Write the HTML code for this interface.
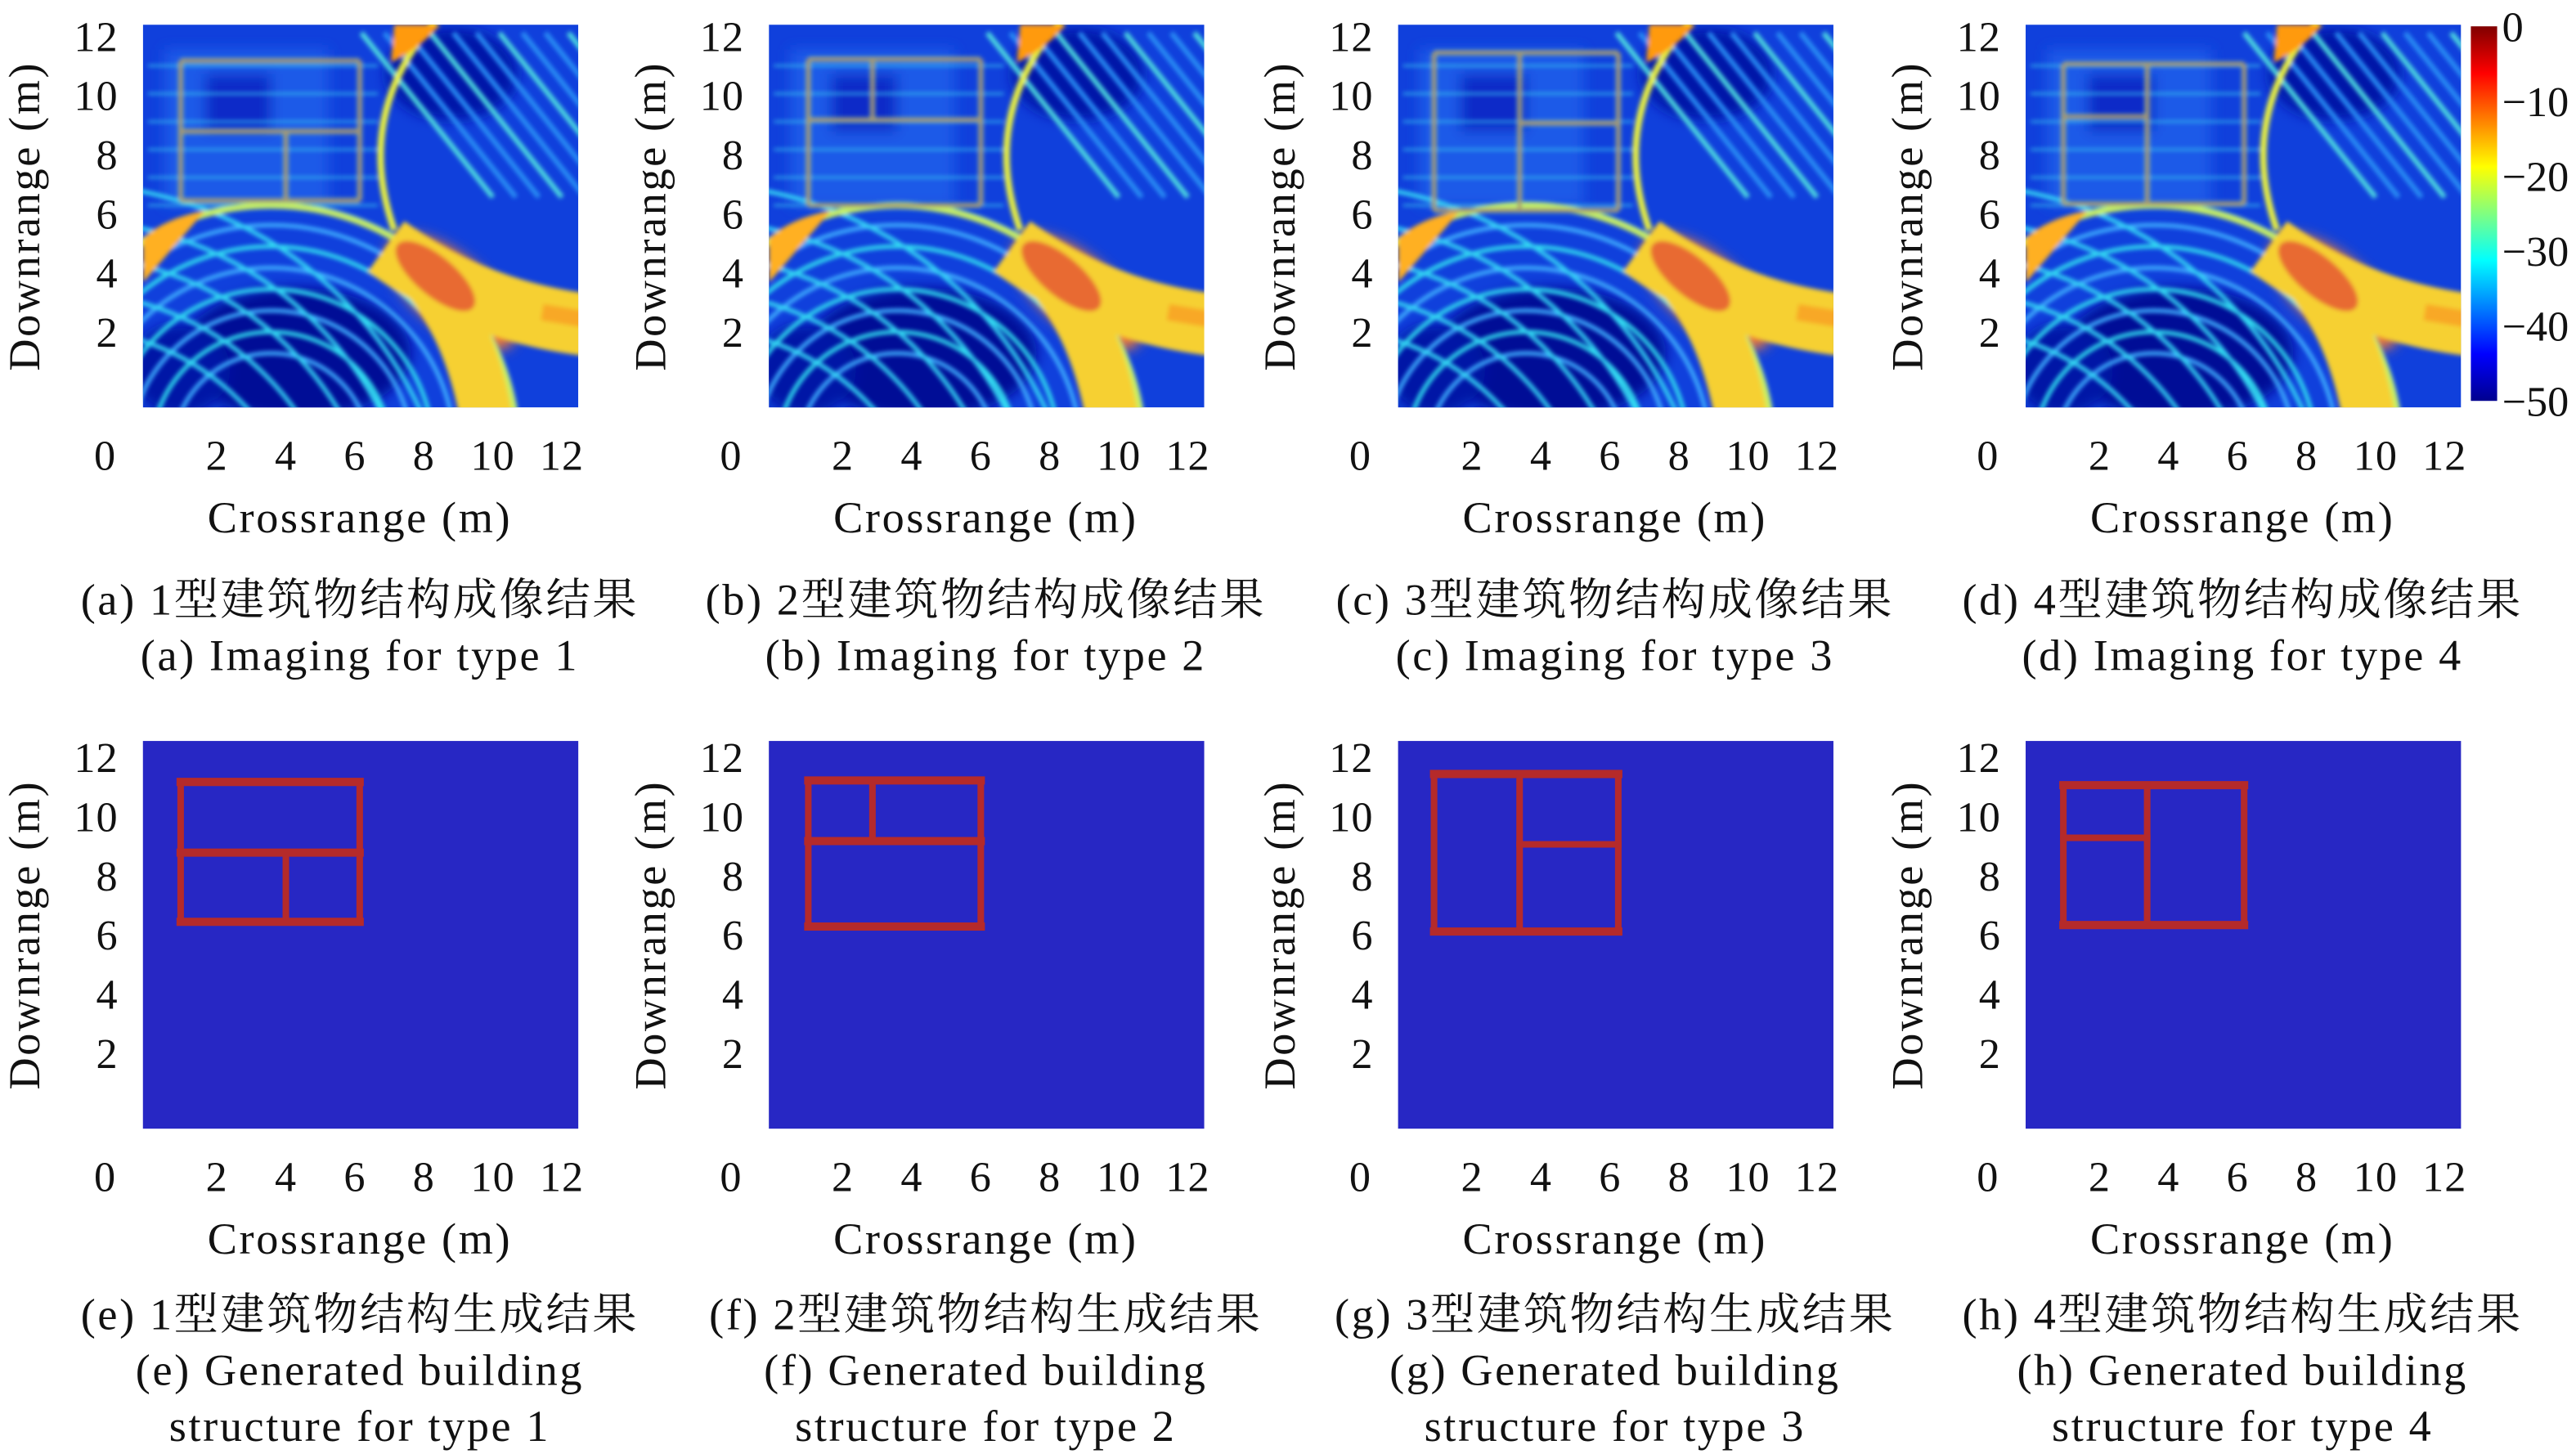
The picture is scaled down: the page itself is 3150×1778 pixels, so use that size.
<!DOCTYPE html>
<html><head><meta charset="utf-8"><style>
html,body{margin:0;padding:0;background:#fff;}
svg{display:block;}
text{font-family:"Liberation Serif","Noto Serif CJK SC",serif;fill:#111;}
</style></head><body>
<svg id="fig" width="3150" height="1778" viewBox="0 0 1568 885" xmlns="http://www.w3.org/2000/svg">
<defs>
<linearGradient id="jet" x1="0" y1="1" x2="0" y2="0">
<stop offset="0" stop-color="#00008f"/><stop offset="0.125" stop-color="#0000ff"/><stop offset="0.375" stop-color="#00ffff"/><stop offset="0.5" stop-color="#80ff80"/><stop offset="0.625" stop-color="#ffff00"/><stop offset="0.875" stop-color="#ff0000"/><stop offset="1" stop-color="#800000"/>
</linearGradient>
<filter id="blur1"><feGaussianBlur stdDeviation="1.3"/></filter>
<filter id="blur3"><feGaussianBlur stdDeviation="4"/></filter>
</defs>
<g id="root"></g>
</svg>
<script>
// data
const xTicks = [0, 2, 4, 6, 8, 10, 12];
const yTicks = [2, 4, 6, 8, 10, 12];
const cbTicks = [0, -10, -20, -30, -40, -50];
const panelOffsets = [0, 381, 764, 1146];
const topCaptionsCN = ["(a) 1型建筑物结构成像结果","(b) 2型建筑物结构成像结果","(c) 3型建筑物结构成像结果","(d) 4型建筑物结构成像结果"];
const topCaptionsEN = ["(a) Imaging for type 1","(b) Imaging for type 2","(c) Imaging for type 3","(d) Imaging for type 4"];
const botCaptionsCN = ["(e) 1型建筑物结构生成结果","(f) 2型建筑物结构生成结果","(g) 3型建筑物结构生成结果","(h) 4型建筑物结构生成结果"];
const botCaptionsEN1 = ["(e) Generated building","(f) Generated building","(g) Generated building","(h) Generated building"];
const botCaptionsEN2 = ["structure for type 1","structure for type 2","structure for type 3","structure for type 4"];
// walls: [x1,y1,x2,y2] in metres
const walls1 = [[0.95,11.17,6.14,11.17],[0.95,6.44,6.14,6.44],[0.95,6.44,0.95,11.17],[6.14,6.44,6.14,11.17],[0.95,8.78,6.14,8.78],[4.0,6.44,4.0,8.78]];
const walls2 = [[1.0,11.22,6.0,11.22],[1.0,6.28,6.0,6.28],[1.0,6.28,1.0,11.22],[6.0,6.28,6.0,11.22],[1.0,9.17,6.0,9.17],[2.86,9.17,2.86,11.22]];
const walls3 = [[0.9,11.44,6.24,11.44],[0.9,6.11,6.24,6.11],[0.9,6.11,0.9,11.44],[6.24,6.11,6.24,11.44],[3.38,6.11,3.38,11.44],[3.38,9.06,6.24,9.06]];
const walls4 = [[0.95,11.06,6.19,11.06],[0.95,6.33,6.19,6.33],[0.95,6.33,0.95,11.06],[6.19,6.33,6.19,11.06],[3.38,6.33,3.38,11.06],[0.95,9.28,3.38,9.28]];
const allWalls = [walls1, walls2, walls3, walls4];

const NS = "http://www.w3.org/2000/svg";
const root = document.getElementById('root');
function el(tag, attrs, parent, txt){
  const e = document.createElementNS(NS, tag);
  for (const k in attrs) e.setAttribute(k, attrs[k]);
  if (txt !== undefined) e.textContent = txt;
  (parent||root).appendChild(e);
  return e;
}
const PL = 87, PR = 352;
function xs(off, v){ return off + 90 + 21*v; }
function ysTop(v){ return 238 - 18*v; }
function ysBot(v){ return 677 - 18*v; }

function axes(off, ys, top, bottom, row, i){
  const g = el('g', {});
  
  
  yTicks.forEach(t => {
    const tx = el('text', {x: off+72, y: ys(t)+9, 'font-size': 26, 'text-anchor':'end', 'letter-spacing': 0.5}, g, String(t));
    
    
  });
  xTicks.forEach(t => {
    const px = t === 0 ? off + 64 : xs(off, t);
    const tx = el('text', {x: px, y: bottom+38, 'font-size': 26, 'text-anchor':'middle', 'letter-spacing': 0.5}, g, String(t));
    
    
  });
  const xl = el('text', {x: off+219, y: bottom+76, 'font-size': 27, 'text-anchor':'middle', 'letter-spacing': 1.3}, g, 'Crossrange (m)');
  
  
  const cy = (top+bottom)/2;
  const yl = el('text', {x: off+24, y: cy, 'font-size': 27, 'text-anchor':'middle', 'letter-spacing': 1.3, transform:'rotate(-90 '+(off+24)+' '+cy+')'}, g, 'Downrange (m)');
  
  
}

function drawHeat(off, i){
  const top = 15, bot = 248;
  const g = el('g', {});
  
  
  const cid = 'clip' + i;
  const cp = el('clipPath', {id: cid}, g);
  el('rect', {x: off+PL, y: top, width: PR-PL, height: bot-top}, cp);
  const h = el('g', {'clip-path': 'url(#'+cid+')'}, g);
  el('rect', {x: off+PL, y: top, width: PR-PL, height: bot-top, fill: '#1040dc'}, h);
  const X = v => off + v;
  const soft = el('g', {filter: 'url(#blur3)'}, h);
  // darker regions
  el('ellipse', {cx: X(180), cy: 215, rx: 70, ry: 40, fill:'#000c96'}, soft);
  el('ellipse', {cx: X(110), cy: 225, rx: 30, ry: 28, fill:'#0018a6'}, soft);
  el('ellipse', {cx: X(275), cy: 45, rx: 40, ry: 28, fill:'#0418a8'}, soft);
  el('rect', {x: X(100), y: 30, width: 100, height: 95, fill:'#1a5ae8'}, soft);
  el('rect', {x: X(125), y: 45, width: 40, height: 35, fill:'#0c2cc8'}, soft);
  const blur = el('g', {filter: 'url(#blur1)'}, h);
  // cyan arcs lower-left region
  for (let k=0;k<8;k++){
    el('circle', {cx: X(165), cy: 275, r: 60 + k*13, fill:'none', stroke: k%2? '#30e0f0':'#40b0ff', 'stroke-width': 2.5}, blur);
  }
  for (let k=0;k<5;k++){
    el('circle', {cx: X(40), cy: 350, r: 150 + k*22, fill:'none', stroke: '#35d8f5', 'stroke-width': 2.5}, blur);
  }
  // streaks upper-right (diagonal)
  for (let k=0;k<10;k++){
    el('line', {x1: X(220+k*14), y1: 20, x2: X(300+k*14), y2: 120, stroke: k%3===0? '#50e0e0':'#2a90f5', 'stroke-width': 3}, blur);
  }
  // building grid faint
  for (let k=0;k<6;k++){
    el('line', {x1: X(90), y1: 40+k*17, x2: X(230), y2: 40+k*17, stroke:'#38c8f0', 'stroke-width': 1.5, opacity: 0.7}, blur);
  }
  // boundary arcs
  el('path', {d: 'M'+X(265)+' 12 Q'+X(215)+' 70 '+X(240)+' 140', fill:'none', stroke:'#e8f040', 'stroke-width': 4}, blur);
  el('path', {d: 'M'+X(240)+' 15 L'+X(268)+' 15 Q'+X(255)+' 30 '+X(238)+' 38 Z', fill:'#ff9a10'}, blur);
  el('circle', {cx: X(165), cy: 275, r: 150, fill:'none', stroke:'#c8f060', 'stroke-width': 4}, blur);
  el('path', {d: 'M'+X(87)+' 145 Q'+X(100)+' 133 '+X(125)+' 128 L'+X(87)+' 172 Z', fill:'#ffb020'}, blur);
  // yellow/orange bands bottom-right
  el('path', {d: 'M'+X(235)+' 150 Q'+X(290)+' 190 '+X(360)+' 198', fill:'none', stroke:'#f6d030', 'stroke-width': 38}, blur);
  el('path', {d: 'M'+X(240)+' 150 Q'+X(285)+' 185 '+X(297)+' 260', fill:'none', stroke:'#f6d030', 'stroke-width': 32}, blur);
  el('path', {d: 'M'+X(330)+' 190 L'+X(360)+' 195', fill:'none', stroke:'#f8a828', 'stroke-width': 10}, blur);
  el('ellipse', {cx: X(275), cy: 178, rx: 48, ry: 22, fill:'#f07a30', transform:'rotate(40 '+X(275)+' 178)'}, soft);
  el('ellipse', {cx: X(265), cy: 168, rx: 30, ry: 12, fill:'#e86a30', transform:'rotate(40 '+X(265)+' 168)'}, blur);
  // wall echoes
  allWalls[i].forEach(w => {
    const x1 = off + 90 + 21*w[0], x2 = off + 90 + 21*w[2];
    const y1 = ysTop(w[1]), y2 = ysTop(w[3]);
    const ln = el('line', {x1, y1, x2, y2, stroke:'#80f0b0', 'stroke-width': 3, opacity: 0.85}, blur);
    
    
    el('line', {x1, y1, x2, y2, stroke:'#e02a10', 'stroke-width': 2, opacity: 0.55}, blur);
  });
}

function drawStruct(off, i){
  const top = 451, bot = 687;
  const g = el('g', {});
  
  
  el('rect', {x: off+PL, y: top, width: PR-PL, height: bot-top, fill: '#2727c4'}, g);
  allWalls[i].forEach((w, k) => {
    const x1 = off + 90 + 21*w[0], x2 = off + 90 + 21*w[2];
    const y1 = ysBot(w[1]), y2 = ysBot(w[3]);
    const ln = el('line', {x1, y1, x2, y2, stroke:'#b52a2a', 'stroke-width': k<2||k===4&&i<2 ? 5 : 4, 'stroke-linecap':'square'}, g);
    
    
  });
}

panelOffsets.forEach((off, i) => {
  drawHeat(off, i);
  axes(off, ysTop, 15, 248, 'top', i);
  drawStruct(off, i);
  axes(off, ysBot, 451, 687, 'bottom', i);
  const cx = off + 219;
  const cs = {'font-size': 27, 'text-anchor':'middle', 'letter-spacing': 1.3};
  let t = el('text', Object.assign({x: cx, y: 374}, cs), root, topCaptionsCN[i]);
  
  
  t = el('text', Object.assign({x: cx, y: 408}, cs), root, topCaptionsEN[i]);
  
  
  t = el('text', Object.assign({x: cx, y: 809}, cs), root, botCaptionsCN[i]);
  
  
  t = el('text', Object.assign({x: cx, y: 843}, cs), root, botCaptionsEN1[i]);
  
  
  t = el('text', Object.assign({x: cx, y: 877}, cs), root, botCaptionsEN2[i]);
  
  
});

// colorbar
const cb = el('g', {});


el('rect', {x: 1504, y: 16, width: 16, height: 228, fill: 'url(#jet)'}, cb);
const cbY = v => 16 + (0 - v) / 50 * 228;
cbTicks.forEach(v => {
  const t = el('text', {x: 1523, y: cbY(v) + 9, 'font-size': 26}, cb, v === 0 ? '0' : '\u2212' + Math.abs(v));
  
  
});
</script>
</body></html>
